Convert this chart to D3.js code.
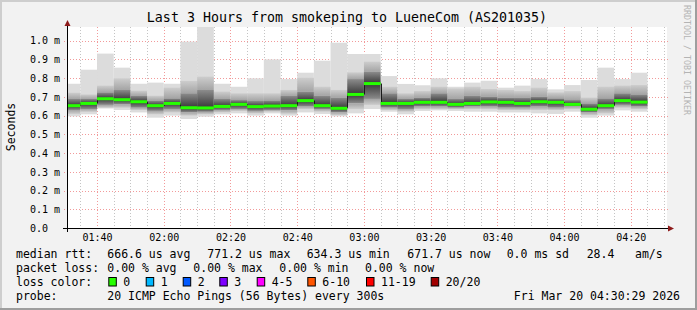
<!DOCTYPE html>
<html>
<head>
<meta charset="utf-8">
<script src="https://cdn.jsdelivr.net/npm/d3@7"></script>
<style>
  body { margin: 0; background: #f2f2f2; }
  svg { display: block; }
  text { font-family: "DejaVu Sans Mono", monospace; fill: #000; }
</style>
</head>
<body>
<div id="chart"></div>
<script>
// 5 minute bins (start time of each bin)
const binTimes = ["01:30","01:35","01:40","01:45","01:50","01:55","02:00","02:05","02:10","02:15",
  "02:20","02:25","02:30","02:35","02:40","02:45","02:50","02:55","03:00","03:05",
  "03:10","03:15","03:20","03:25","03:30","03:35","03:40","03:45","03:50","03:55",
  "04:00","04:05","04:10","04:15","04:20"];

// values in ms
const median  = [.653,.665,.690,.685,.674,.653,.665,.642,.641,.649,.660,.648,.651,.653,.680,.653,.639,.713,.771,.665,
                 .665,.671,.671,.660,.665,.673,.671,.665,.674,.671,.660,.634,.653,.680,.672];
const pingMax = [.770,.845,.931,.856,.770,.776,.770,.995,1.080,.770,.754,.799,.900,.795,.829,.893,.989,.929,.929,.811,
                 .769,.762,.799,.754,.776,.786,.749,.760,.795,.740,.763,.790,.856,.795,.829];
const pingHi1 = [.722,.713,.760,.799,.733,.706,.749,.785,.808,.728,.719,.719,.719,.737,.802,.754,.737,.831,.888,.754,
                 .719,.731,.754,.745,.754,.742,.737,.731,.749,.724,.731,.696,.754,.760,.763];
const pingHi2 = [.689,.689,.724,.737,.706,.680,.692,.719,.737,.689,.683,.678,.681,.706,.728,.706,.696,.795,.834,.719,
                 .689,.696,.719,.689,.706,.701,.696,.696,.701,.692,.683,.665,.692,.719,.713];
const pingLo2 = [.630,.635,.657,.660,.642,.625,.635,.617,.620,.630,.635,.625,.630,.628,.648,.635,.617,.665,.689,.642,
                 .635,.648,.648,.642,.648,.648,.642,.642,.648,.642,.648,.617,.635,.657,.648];
const pingLo1 = [.609,.620,.642,.642,.630,.607,.617,.600,.607,.617,.625,.612,.621,.610,.635,.621,.603,.635,.657,.630,
                 .621,.635,.635,.635,.635,.635,.630,.630,.630,.630,.635,.603,.612,.642,.635];
const pingMin = [.596,.607,.638,.630,.617,.589,.600,.582,.594,.607,.612,.600,.612,.600,.617,.609,.596,.612,.635,.621,
                 .607,.625,.628,.625,.621,.621,.617,.617,.612,.609,.621,.589,.600,.628,.621];

const yTicks = [0, 0.1, 0.2, 0.3, 0.4, 0.5, 0.6, 0.7, 0.8, 0.9, 1.0];

const lossLabels = ["0", "1", "2", "3", "4-5", "6-10", "11-19", "20/20"];
const lossColors = ["#26ff00", "#00b8ff", "#0059ff", "#7e00ff", "#ff00ff", "#ff5500", "#ff0000", "#a10000"];

const W = 697, H = 310;
const pLeft = 67, pRight = 667, pTop = 27, pBottom = 228;

const parse = d3.timeParse("%H:%M");

const svg = d3.select("#chart").append("svg")
  .attr("width", W).attr("height", H);

// background + frame
svg.append("rect").attr("width", W).attr("height", H).attr("fill", "#f2f2f2");
svg.append("rect").attr("x", 0).attr("y", 0).attr("width", W).attr("height", 2).attr("fill", "#cecece");
svg.append("rect").attr("x", 0).attr("y", 0).attr("width", 2).attr("height", H).attr("fill", "#cecece");
svg.append("rect").attr("x", 0).attr("y", H - 2).attr("width", W).attr("height", 2).attr("fill", "#9e9e9e");
svg.append("rect").attr("x", W - 2).attr("y", 0).attr("width", 2).attr("height", H).attr("fill", "#9e9e9e");

// plot canvas
svg.append("rect").attr("x", pLeft).attr("y", pTop).attr("width", pRight - pLeft).attr("height", pBottom - pTop)
  .attr("fill", "#fff");

const x = d3.scaleTime().domain([parse("01:31"), parse("04:31")]).range([pLeft, pRight + 0.5]);
const y = d3.scaleLinear().domain([0, 1.073]).range([pBottom, pTop]);

// grid
const minorT = x.ticks(d3.timeMinute.every(5)).filter(t => t.getMinutes() % 20 !== 0);
const majorT = x.ticks(d3.timeMinute.every(20));

const grid = svg.append("g");
grid.selectAll(".vmin").data(minorT).enter().append("line")
  .attr("x1", d => Math.round(x(d)) + 0.5).attr("x2", d => Math.round(x(d)) + 0.5)
  .attr("y1", pTop).attr("y2", pBottom + 2)
  .attr("stroke", "#c4c4c4").attr("stroke-dasharray", "1,2");
grid.selectAll(".vmaj").data(majorT).enter().append("line")
  .attr("x1", d => Math.round(x(d)) + 0.5).attr("x2", d => Math.round(x(d)) + 0.5)
  .attr("y1", pTop).attr("y2", pBottom + 3)
  .attr("stroke", "#f29a9a").attr("stroke-dasharray", "1,2");
grid.selectAll(".hmaj").data(yTicks.slice(1)).enter().append("line")
  .attr("x1", pLeft - 3).attr("x2", pRight + 2)
  .attr("y1", d => Math.round(y(d)) + 0.5).attr("y2", d => Math.round(y(d)) + 0.5)
  .attr("stroke", "#f29a9a").attr("stroke-dasharray", "1,2");

// smoke gradients
const defs = svg.append("defs");
function grad(id, c1, c2) {
  const g = defs.append("linearGradient").attr("id", id)
    .attr("x1", 0).attr("y1", 0).attr("x2", 0).attr("y2", 1);
  g.append("stop").attr("offset", "0%").attr("stop-color", c1);
  g.append("stop").attr("offset", "100%").attr("stop-color", c2);
}
grad("upB", "#cdcdcd", "#a4a4a4");
grad("upC", "#8c8c8c", "#383838");
grad("loC", "#383838", "#8c8c8c");
grad("loB", "#a4a4a4", "#cdcdcd");

defs.append("clipPath").attr("id", "plotClip")
  .append("rect").attr("x", pLeft).attr("y", pTop).attr("width", pRight - pLeft).attr("height", pBottom - pTop);

const bins = binTimes.map((t, i) => {
  const t0 = parse(t);
  const t1 = d3.timeMinute.offset(t0, 5);
  return {
    x0: Math.max(pLeft, x(t0)), x1: x(t1),
    med: median[i], max: pingMax[i], hi1: pingHi1[i], hi2: pingHi2[i],
    lo2: pingLo2[i], lo1: pingLo1[i], min: pingMin[i]
  };
});

const smoke = svg.append("g").attr("clip-path", "url(#plotClip)");
function band(key1, key2, fill) {
  smoke.selectAll(null).data(bins).enter().append("rect")
    .attr("x", d => d.x0).attr("width", d => d.x1 - d.x0)
    .attr("y", d => y(d[key1])).attr("height", d => y(d[key2]) - y(d[key1]))
    .attr("fill", fill);
}
band("max", "min", "#dcdcdc");
band("hi1", "hi2", "url(#upB)");
band("hi2", "med", "url(#upC)");
band("med", "lo2", "url(#loC)");
band("lo2", "lo1", "url(#loB)");

// median connectors + green segments
smoke.selectAll(".conn").data(bins.slice(1)).enter().append("line")
  .attr("x1", d => Math.round(d.x0) + 0.5).attr("x2", d => Math.round(d.x0) + 0.5)
  .attr("y1", (d, i) => y(bins[i].med)).attr("y2", d => y(d.med))
  .attr("stroke", "#1a1a1a").attr("stroke-width", 1);
smoke.selectAll(".med").data(bins).enter().append("rect")
  .attr("x", d => d.x0).attr("width", d => d.x1 - d.x0)
  .attr("y", d => y(d.med) - 1.5).attr("height", 3)
  .attr("fill", lossColors[0]);

// axes lines
svg.append("line").attr("x1", pLeft - 4).attr("x2", pRight + 2).attr("y1", pBottom + 0.5).attr("y2", pBottom + 0.5)
  .attr("stroke", "#000");
svg.append("line").attr("x1", pLeft + 0.5).attr("x2", pLeft + 0.5).attr("y1", pBottom + 4).attr("y2", pTop - 1)
  .attr("stroke", "#000");
svg.append("path").attr("d", `M${pRight + 1},${pBottom - 2.5}L${pRight + 7},${pBottom + 0.5}L${pRight + 1},${pBottom + 3.5}Z`)
  .attr("fill", "#8e1b1b");
svg.append("path").attr("d", `M${pLeft - 2.5},${pTop - 1}L${pLeft + 0.5},${pTop - 7}L${pLeft + 3.5},${pTop - 1}Z`)
  .attr("fill", "#8e1b1b");

// x tick labels
const xAxis = svg.append("g").attr("transform", `translate(0,${pBottom})`)
  .call(d3.axisBottom(x).tickValues(majorT).tickFormat(d3.timeFormat("%H:%M")).tickSize(0).tickPadding(6));
xAxis.select(".domain").remove();
xAxis.selectAll("text").attr("font-size", 10).attr("font-family", "DejaVu Sans Mono");

// y tick labels
const yAxis = svg.append("g").attr("transform", `translate(${pLeft},0)`)
  .call(d3.axisLeft(y).tickValues(yTicks).tickSize(0)
    .tickFormat(d => d === 0 ? "0.0" : d3.format(".1f")(d) + " m"));
yAxis.select(".domain").remove();
yAxis.selectAll("text").attr("font-size", 10).attr("font-family", "DejaVu Sans Mono")
  .attr("text-anchor", "start").attr("x", 30 - pLeft);

// title
svg.append("text").attr("x", 347).attr("y", 22).attr("text-anchor", "middle")
  .attr("font-size", 13.3).text("Last 3 Hours from smokeping to LueneCom (AS201035)");

// y label
svg.append("text").attr("transform", "translate(15,127) rotate(-90)").attr("text-anchor", "middle")
  .attr("font-size", 11.5).text("Seconds");

// watermark
svg.append("text").attr("transform", "translate(684,5) rotate(90)")
  .attr("font-size", 8.3).style("fill", "#b4b4b4").text("RRDTOOL / TOBI OETIKER");

// legend
const fs = 11.5;
function put(xp, yp, s) {
  svg.append("text").attr("x", xp).attr("y", yp).attr("font-size", fs)
    .attr("xml:space", "preserve").style("white-space", "pre").text(s);
}
put(16, 257.5, "median rtt:");
put(107.3, 257.5, "666.6 us avg");
put(207.3, 257.5, "771.2 us max");
put(306.7, 257.5, "634.3 us min");
put(407.3, 257.5, "671.7 us now");
put(506.7, 257.5, "0.0 ms sd");
put(586.7, 257.5, "28.4");
put(635, 257.5, "am/s");

put(16, 271.5, "packet loss:");
put(107.3, 271.5, "0.00 % avg");
put(193.3, 271.5, "0.00 % max");
put(279.3, 271.5, "0.00 % min");
put(365, 271.5, "0.00 % now");

put(16, 285.5, "loss color:");
const boxX = [108.3, 145.7, 182.7, 219.3, 256.7, 307.3, 366, 430.7];
lossLabels.forEach((lab, i) => {
  svg.append("rect").attr("x", boxX[i] + 0.5).attr("y", 277.5).attr("width", 7.5).attr("height", 8.5)
    .attr("fill", lossColors[i]).attr("stroke", "#000").attr("stroke-width", 1);
  put(boxX[i] + 15, 285.5, lab);
});

put(16, 299.5, "probe:");
put(107.3, 299.5, "20 ICMP Echo Pings (56 Bytes) every 300s");
svg.append("text").attr("x", 680).attr("y", 299.5).attr("text-anchor", "end").attr("font-size", fs)
  .text("Fri Mar 20 04:30:29 2026");
</script>
</body>
</html>
